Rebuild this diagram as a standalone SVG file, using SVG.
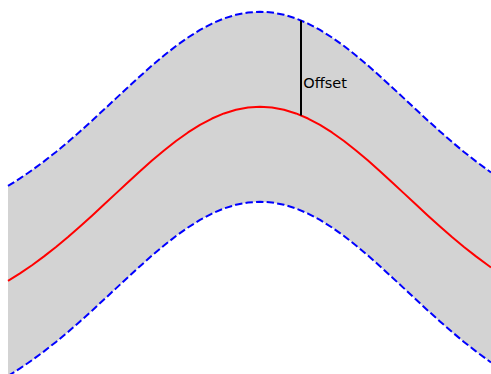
<svg xmlns="http://www.w3.org/2000/svg" width="491" height="374" viewBox="0 0 491 374">
<style>
.band{fill:#d3d3d3;stroke:none}
.mid{fill:none;stroke:#ff0000;stroke-width:2;stroke-linejoin:round}
.edge{fill:none;stroke:#0000ff;stroke-width:2;stroke-dasharray:7.4 3.2}
.mark{stroke:#000000;stroke-width:2}
.lbl{font-family:"DejaVu Sans","Liberation Sans",sans-serif;font-size:14.5px;fill:#000000}
</style>
<rect width="491" height="374" fill="#ffffff"/>
<g id="band">
<path class="band" d="M8,185.97 L20,178.43 L32,170.23 L44,161.38 L56,151.93 L68,141.93 L80,131.47 L92,120.64 L104,109.57 L116,98.36 L128,87.19 L140,76.2 L152,65.56 L164,55.44 L176,46.02 L188,37.46 L200,29.92 L212,23.54 L224,18.44 L236,14.72 L248,12.46 L260,11.7 L272,12.46 L284,14.72 L296,18.44 L308,23.54 L320,29.92 L332,37.46 L344,46.02 L356,55.44 L368,65.56 L380,76.2 L392,87.19 L404,98.36 L416,109.57 L428,120.64 L440,131.47 L452,141.93 L464,151.93 L476,161.38 L488,170.23 L491,172.35 L491,362.35 L488,360.23 L476,351.38 L464,341.93 L452,331.93 L440,321.47 L428,310.64 L416,299.57 L404,288.36 L392,277.19 L380,266.2 L368,255.56 L356,245.44 L344,236.02 L332,227.46 L320,219.92 L308,213.54 L296,208.44 L284,204.72 L272,202.46 L260,201.7 L248,202.46 L236,204.72 L224,208.44 L212,213.54 L200,219.92 L188,227.46 L176,236.02 L164,245.44 L152,255.56 L140,266.2 L128,277.19 L116,288.36 L104,299.57 L92,310.64 L80,321.47 L68,331.93 L56,341.93 L44,351.38 L32,360.23 L20,368.43 L8,375.97 Z"/>
</g>
<g id="curves">
<path id="upper" class="edge" d="M8,185.97 L20,178.43 L32,170.23 L44,161.38 L56,151.93 L68,141.93 L80,131.47 L92,120.64 L104,109.57 L116,98.36 L128,87.19 L140,76.2 L152,65.56 L164,55.44 L176,46.02 L188,37.46 L200,29.92 L212,23.54 L224,18.44 L236,14.72 L248,12.46 L260,11.7 L272,12.46 L284,14.72 L296,18.44 L308,23.54 L320,29.92 L332,37.46 L344,46.02 L356,55.44 L368,65.56 L380,76.2 L392,87.19 L404,98.36 L416,109.57 L428,120.64 L440,131.47 L452,141.93 L464,151.93 L476,161.38 L488,170.23 L491,172.35"/>
<path id="lower" class="edge" d="M8,375.97 L20,368.43 L32,360.23 L44,351.38 L56,341.93 L68,331.93 L80,321.47 L92,310.64 L104,299.57 L116,288.36 L128,277.19 L140,266.2 L152,255.56 L164,245.44 L176,236.02 L188,227.46 L200,219.92 L212,213.54 L224,208.44 L236,204.72 L248,202.46 L260,201.7 L272,202.46 L284,204.72 L296,208.44 L308,213.54 L320,219.92 L332,227.46 L344,236.02 L356,245.44 L368,255.56 L380,266.2 L392,277.19 L404,288.36 L416,299.57 L428,310.64 L440,321.47 L452,331.93 L464,341.93 L476,351.38 L488,360.23 L491,362.35"/>
<path id="centre" class="mid" d="M8,280.97 L20,273.43 L32,265.23 L44,256.38 L56,246.93 L68,236.93 L80,226.47 L92,215.64 L104,204.57 L116,193.36 L128,182.19 L140,171.2 L152,160.56 L164,150.44 L176,141.02 L188,132.46 L200,124.92 L212,118.54 L224,113.44 L236,109.72 L248,107.46 L260,106.7 L272,107.46 L284,109.72 L296,113.44 L308,118.54 L320,124.92 L332,132.46 L344,141.02 L356,150.44 L368,160.56 L380,171.2 L392,182.19 L404,193.36 L416,204.57 L428,215.64 L440,226.47 L452,236.93 L464,246.93 L476,256.38 L488,265.23 L491,267.35"/>
</g>
<g id="offset">
<line class="mark" x1="301" y1="20.4" x2="301" y2="115.4"/>
<text class="lbl" x="303.3" y="88">Offset</text>
</g>
</svg>
